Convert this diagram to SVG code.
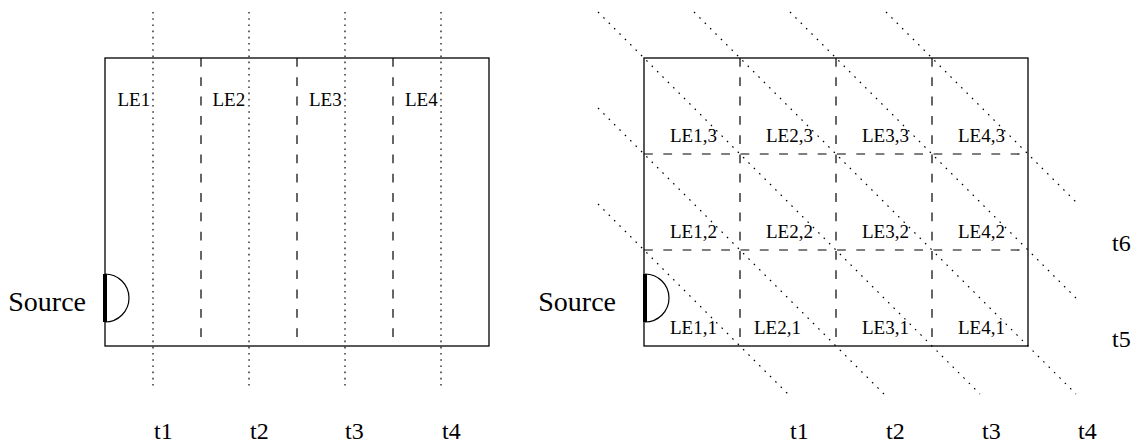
<svg xmlns="http://www.w3.org/2000/svg" width="1136" height="444" viewBox="0 0 1136 444">
<style>
  .frame{fill:none;stroke:#000;stroke-width:1.3}
  .dash{fill:none;stroke:#000;stroke-width:1.2;stroke-dasharray:8.8 10.5}
  .dot{fill:none;stroke:#000;stroke-width:1.2;stroke-dasharray:1.6 4.6}
  .ddot{fill:none;stroke:#000;stroke-width:1.2;stroke-dasharray:1.6 6}
  .bar{fill:none;stroke:#000;stroke-width:4}
  .arc{fill:none;stroke:#000;stroke-width:1.2}
  text{font-family:"Liberation Serif","Times New Roman",serif;fill:#000}
  .le{font-size:19px}
  .t{font-size:24px}
  .src{font-size:28px}
</style>
<rect width="1136" height="444" fill="#fff"/>

<g id="left-figure">
  <rect class="frame" x="105" y="58" width="384" height="288"/>
  <g id="left-cells">
    <line class="dash" x1="201" y1="58" x2="201" y2="346"/>
    <line class="dash" x1="297" y1="58" x2="297" y2="346"/>
    <line class="dash" x1="393" y1="58" x2="393" y2="346"/>
  </g>
  <g id="left-LE1"><text class="le" x="117.5" y="105.5">LE1</text></g>
  <g id="left-LE2"><text class="le" x="212.5" y="105.5">LE2</text></g>
  <g id="left-LE3"><text class="le" x="309" y="105.5">LE3</text></g>
  <g id="left-LE4"><text class="le" x="405" y="105.5">LE4</text></g>
  <g id="left-source">
    <path class="arc" d="M105 274 A24 24 0 0 1 105 322"/>
    <line class="bar" x1="105" y1="274" x2="105" y2="322"/>
    <text class="src" x="86" y="310.5" text-anchor="end">Source</text>
  </g>
  <g id="left-wavefronts">
    <line class="dot" x1="153" y1="12" x2="153" y2="390"/>
    <line class="dot" x1="249" y1="12" x2="249" y2="390"/>
    <line class="dot" x1="345" y1="12" x2="345" y2="390"/>
    <line class="dot" x1="441" y1="12" x2="441" y2="390"/>
  </g>
  <g id="left-times">
    <text class="t" x="154" y="438.5">t1</text>
    <text class="t" x="250" y="438.5">t2</text>
    <text class="t" x="345" y="438.5">t3</text>
    <text class="t" x="442" y="438.5">t4</text>
  </g>
</g>

<g id="right-figure">
  <rect class="frame" x="644" y="58" width="384" height="288"/>
  <g id="right-cells">
    <line class="dash" x1="740" y1="58" x2="740" y2="346"/>
    <line class="dash" x1="836" y1="58" x2="836" y2="346"/>
    <line class="dash" x1="932" y1="58" x2="932" y2="346"/>
    <line class="dash" x1="644" y1="154" x2="1028" y2="154"/>
    <line class="dash" x1="644" y1="250" x2="1028" y2="250"/>
  </g>
  <g id="LE1-3"><text class="le" x="670" y="142">LE1,3</text></g>
  <g id="LE2-3"><text class="le" x="766" y="142">LE2,3</text></g>
  <g id="LE3-3"><text class="le" x="862" y="142">LE3,3</text></g>
  <g id="LE4-3"><text class="le" x="958" y="142">LE4,3</text></g>
  <g id="LE1-2"><text class="le" x="670" y="238">LE1,2</text></g>
  <g id="LE2-2"><text class="le" x="766" y="238">LE2,2</text></g>
  <g id="LE3-2"><text class="le" x="862" y="238">LE3,2</text></g>
  <g id="LE4-2"><text class="le" x="958" y="238">LE4,2</text></g>
  <g id="LE1-1"><text class="le" x="670" y="334">LE1,1</text></g>
  <g id="LE2-1"><text class="le" x="754" y="334">LE2,1</text></g>
  <g id="LE3-1"><text class="le" x="862" y="334">LE3,1</text></g>
  <g id="LE4-1"><text class="le" x="958" y="334">LE4,1</text></g>
  <g id="right-source">
    <path class="arc" d="M645 274 A24 24 0 0 1 645 322"/>
    <line class="bar" x1="645" y1="274" x2="645" y2="322"/>
    <text class="src" x="616" y="310.5" text-anchor="end">Source</text>
  </g>
  <g id="right-wavefronts">
    <line class="ddot" x1="598" y1="204" x2="788" y2="394"/>
    <line class="ddot" x1="598" y1="108" x2="884" y2="394"/>
    <line class="ddot" x1="598" y1="12" x2="980" y2="394"/>
    <line class="ddot" x1="694" y1="12" x2="1076" y2="394"/>
    <line class="ddot" x1="790" y1="12" x2="1076" y2="298"/>
    <line class="ddot" x1="886" y1="12" x2="1076" y2="202"/>
  </g>
  <g id="right-times">
    <text class="t" x="790" y="438.5">t1</text>
    <text class="t" x="886" y="438.5">t2</text>
    <text class="t" x="982" y="438.5">t3</text>
    <text class="t" x="1078" y="438.5">t4</text>
    <text class="t" x="1112" y="347">t5</text>
    <text class="t" x="1112" y="251">t6</text>
  </g>
</g>
</svg>
